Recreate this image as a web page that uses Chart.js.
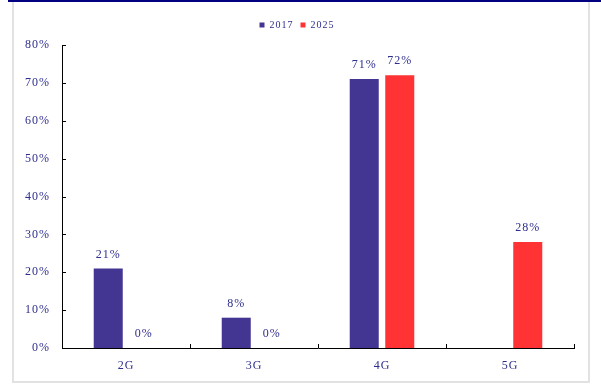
<!DOCTYPE html>
<html>
<head>
<meta charset="utf-8">
<script src="https://cdn.jsdelivr.net/npm/chart.js@4/dist/chart.umd.min.js"></script>
<style>
  html, body { margin: 0; padding: 0; background: #fff; }
  #wrap { position: relative; width: 601px; height: 385px; overflow: hidden; }
  #topline { position: absolute; left: 8px; top: 0; width: 593px; height: 2px; background: #000080; }
  #frame { position: absolute; left: 12px; top: 2px; width: 574px; height: 379px; border: 2px solid #e2e2e2; border-top: none; }
  #c { position: absolute; left: 0; top: 0; }
</style>
</head>
<body>
<div id="wrap">
  <div id="topline"></div>
  <div id="frame"></div>
  <canvas id="c" width="601" height="385"></canvas>
</div>
<script>
const categories = ['2G', '3G', '4G', '5G'];
const seriesNames = ['2017', '2025'];
const values2017 = [21, 8, 71, null];
const values2025 = [0, 0, 72, 28];
const yTicks = [0, 10, 20, 30, 40, 50, 60, 70, 80];

const NAVY_TEXT = '#2e2e8f';
const FONT = '"Liberation Serif", "Times New Roman", serif';

const legendGap = {
  id: 'legendGap',
  beforeLayout(chart) {
    const lg = chart.legend;
    if (lg && !lg._gapPatched) {
      const orig = lg.fit.bind(lg);
      lg.fit = function () { orig(); this.height += 5; };
      lg._gapPatched = true;
    }
  }
};

const innerTicks = {
  id: 'innerTicks',
  afterDatasetsDraw(chart) {
    const ctx = chart.ctx;
    const x = chart.scales.x, y = chart.scales.y;
    const area = chart.chartArea;
    ctx.save();
    ctx.strokeStyle = '#000';
    ctx.lineWidth = 1;
    ctx.beginPath();
    yTicks.forEach(v => {
      const py = Math.round(y.getPixelForValue(v)) + 0.5;
      ctx.moveTo(area.left, py);
      ctx.lineTo(area.left + 4, py);
    });
    const n = categories.length;
    for (let i = 0; i <= n; i++) {
      let px;
      if (i === 0) px = area.left;
      else if (i === n) px = area.right;
      else px = (x.getPixelForValue(i - 1) + x.getPixelForValue(i)) / 2;
      px = Math.round(px) + 0.5;
      ctx.moveTo(px, area.bottom);
      ctx.lineTo(px, area.bottom - 4);
    }
    ctx.stroke();
    ctx.restore();
  }
};

const valueLabels = {
  id: 'valueLabels',
  afterDatasetsDraw(chart) {
    const ctx = chart.ctx;
    ctx.save();
    ctx.font = '12px ' + FONT;
    ctx.fillStyle = NAVY_TEXT;
    ctx.textAlign = 'center';
    ctx.textBaseline = 'middle';
    if ('letterSpacing' in ctx) ctx.letterSpacing = '1px';
    chart.data.datasets.forEach((ds, di) => {
      const meta = chart.getDatasetMeta(di);
      meta.data.forEach((bar, i) => {
        const v = ds.data[i];
        if (v === null || v === undefined) return;
        ctx.fillText(v + '%', bar.x, bar.y - 14);
      });
    });
    ctx.restore();
  }
};

const spacing = {
  id: 'spacing',
  beforeDraw(chart) { if ('letterSpacing' in chart.ctx) chart.ctx.letterSpacing = '1px'; }
};

new Chart(document.getElementById('c'), {
  type: 'bar',
  data: {
    labels: categories,
    datasets: [
      { label: seriesNames[0], data: values2017, backgroundColor: '#433693' },
      { label: seriesNames[1], data: values2025, backgroundColor: '#ff3333' }
    ]
  },
  options: {
    responsive: false,
    animation: false,
    devicePixelRatio: 1,
    categoryPercentage: 0.555,
    barPercentage: 0.817,
    layout: { padding: { left: 12, right: 27, top: 13, bottom: 0 } },
    plugins: {
      legend: {
        display: true,
        position: 'top',
        labels: {
          font: { family: FONT, size: 10 },
          color: NAVY_TEXT,
          boxWidth: 5,
          boxHeight: 5,
          padding: 7
        }
      },
      tooltip: { enabled: false }
    },
    scales: {
      x: {
        grid: { display: false, drawTicks: false },
        border: { display: true, color: '#000', width: 1 },
        ticks: { font: { family: FONT, size: 12 }, color: NAVY_TEXT, padding: 11 },
        afterFit(s) { s.height = 37; }
      },
      y: {
        min: 0, max: 80,
        afterBuildTicks(s) { s.ticks = yTicks.map(v => ({ value: v })); },
        grid: { display: false, drawTicks: false },
        border: { display: true, color: '#000', width: 1 },
        ticks: {
          font: { family: FONT, size: 12 },
          color: NAVY_TEXT,
          padding: 12,
          callback: v => v + '%'
        },
        afterFit(s) { s.width = 50; }
      }
    }
  },
  plugins: [legendGap, spacing, innerTicks, valueLabels]
});
</script>
</body>
</html>
